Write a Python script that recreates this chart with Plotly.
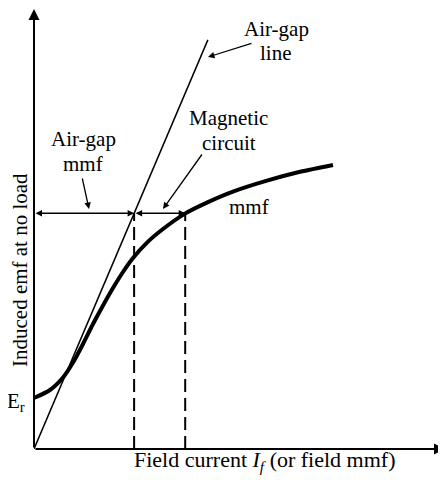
import plotly.graph_objects as go

# ---- data (arbitrary units, 0..100 on both axes) ----
curve_x = [0.0, 3.88, 7.04, 9.47, 11.89, 14.32, 16.75, 19.17, 21.60, 24.03, 27.43, 31.31, 36.65, 42.23, 48.30, 56.55, 64.56, 72.57]
curve_y = [11.62, 13.44, 16.29, 19.70, 23.92, 28.47, 32.69, 36.67, 40.32, 43.51, 47.02, 50.11, 53.62, 56.24, 58.63, 61.12, 63.14, 64.71]
airgap_x = [0.0, 42.2]
airgap_y = [0.0, 93.2]
emf_level = 53.7          # operating emf
airgap_mmf = 24.3         # air-gap line reaches emf_level
total_mmf = 36.7          # saturation curve reaches emf_level

FONT = "Liberation Serif"
OFF = 8                   # page body margin offset
W, H = 446 - OFF, 480 - OFF
L, R, T, B = 34 - OFF, 0, 10 - OFF, 31
PW, PH = W - L - R, H - T - B


# page pixel -> data / paper coordinates
def dx(px):
    return (px - OFF - L) / PW * 100


def dy(py):
    return (H - B - (py - OFF)) / PH * 100


fig = go.Figure()

# air-gap line
fig.add_trace(go.Scatter(x=airgap_x, y=airgap_y, mode="lines",
                         line=dict(color="black", width=1.5), hoverinfo="skip"))
# open-circuit characteristic
fig.add_trace(go.Scatter(x=curve_x, y=curve_y, mode="lines",
                         line=dict(color="black", width=4, shape="spline", smoothing=0.8),
                         hoverinfo="skip"))
# dashed verticals
for xv in (airgap_mmf, total_mmf):
    fig.add_trace(go.Scatter(x=[xv, xv], y=[0, emf_level], mode="lines",
                             line=dict(color="black", width=2, dash="13px,6px"),
                             hoverinfo="skip"))

ann = []


def arrow(x0, y0, x1, y1, width=1.3, both=False, head=2, size=1.0):
    d = dict(x=x1, y=y1, ax=x0, ay=y0, xref="x", yref="y", axref="x", ayref="y",
             text="", showarrow=True, arrowhead=head, arrowsize=size,
             arrowwidth=width, arrowcolor="black")
    if both:
        d.update(arrowside="end+start", startarrowhead=head, startarrowsize=size)
    ann.append(d)


def text(px, py, s, size=21, angle=0):
    ann.append(dict(x=dx(px) / 100, y=dy(py) / 100, xref="paper", yref="paper",
                    text=s, showarrow=False, textangle=angle,
                    font=dict(family=FONT, size=size, color="black"),
                    xanchor="center", yanchor="middle"))


# axes with arrow heads
arrow(0, 0, 0, dy(9), width=2, head=2, size=1.1)
arrow(0, 0, dx(445), 0, width=2, head=2, size=1.1)

# horizontal dimension arrows
arrow(0, emf_level, airgap_mmf, emf_level, width=1.3, both=True)
arrow(airgap_mmf, emf_level, total_mmf, emf_level, width=1.3, both=True)

# pointer arrows
arrow(dx(253), dy(43), dx(208), dy(57))
arrow(dx(203), dy(153), dx(163), dy(209))
arrow(dx(82), dy(177), dx(89), dy(209))

# labels
text(276, 29, "Air-gap")
text(276, 53, "line")
text(228, 118, "Magnetic")
text(229, 143, "circuit")
text(83, 139, "Air-gap")
text(83, 164, "mmf")
text(249, 207, "mmf")
text(16, 402, "E<sub>r</sub>")
text(20, 270, "Induced emf at no load", size=21, angle=-90)
text(265, 461, "Field current <i>I</i><sub><i>f</i></sub> (or field mmf)", size=22)

fig.update_layout(
    width=W, height=H,
    margin=dict(l=L, r=R, t=T, b=B),
    paper_bgcolor="white", plot_bgcolor="white",
    showlegend=False,
    annotations=ann,
    xaxis=dict(range=[0, 100], visible=False),
    yaxis=dict(range=[0, 100], visible=False),
)

fig.write_html("out.html")
